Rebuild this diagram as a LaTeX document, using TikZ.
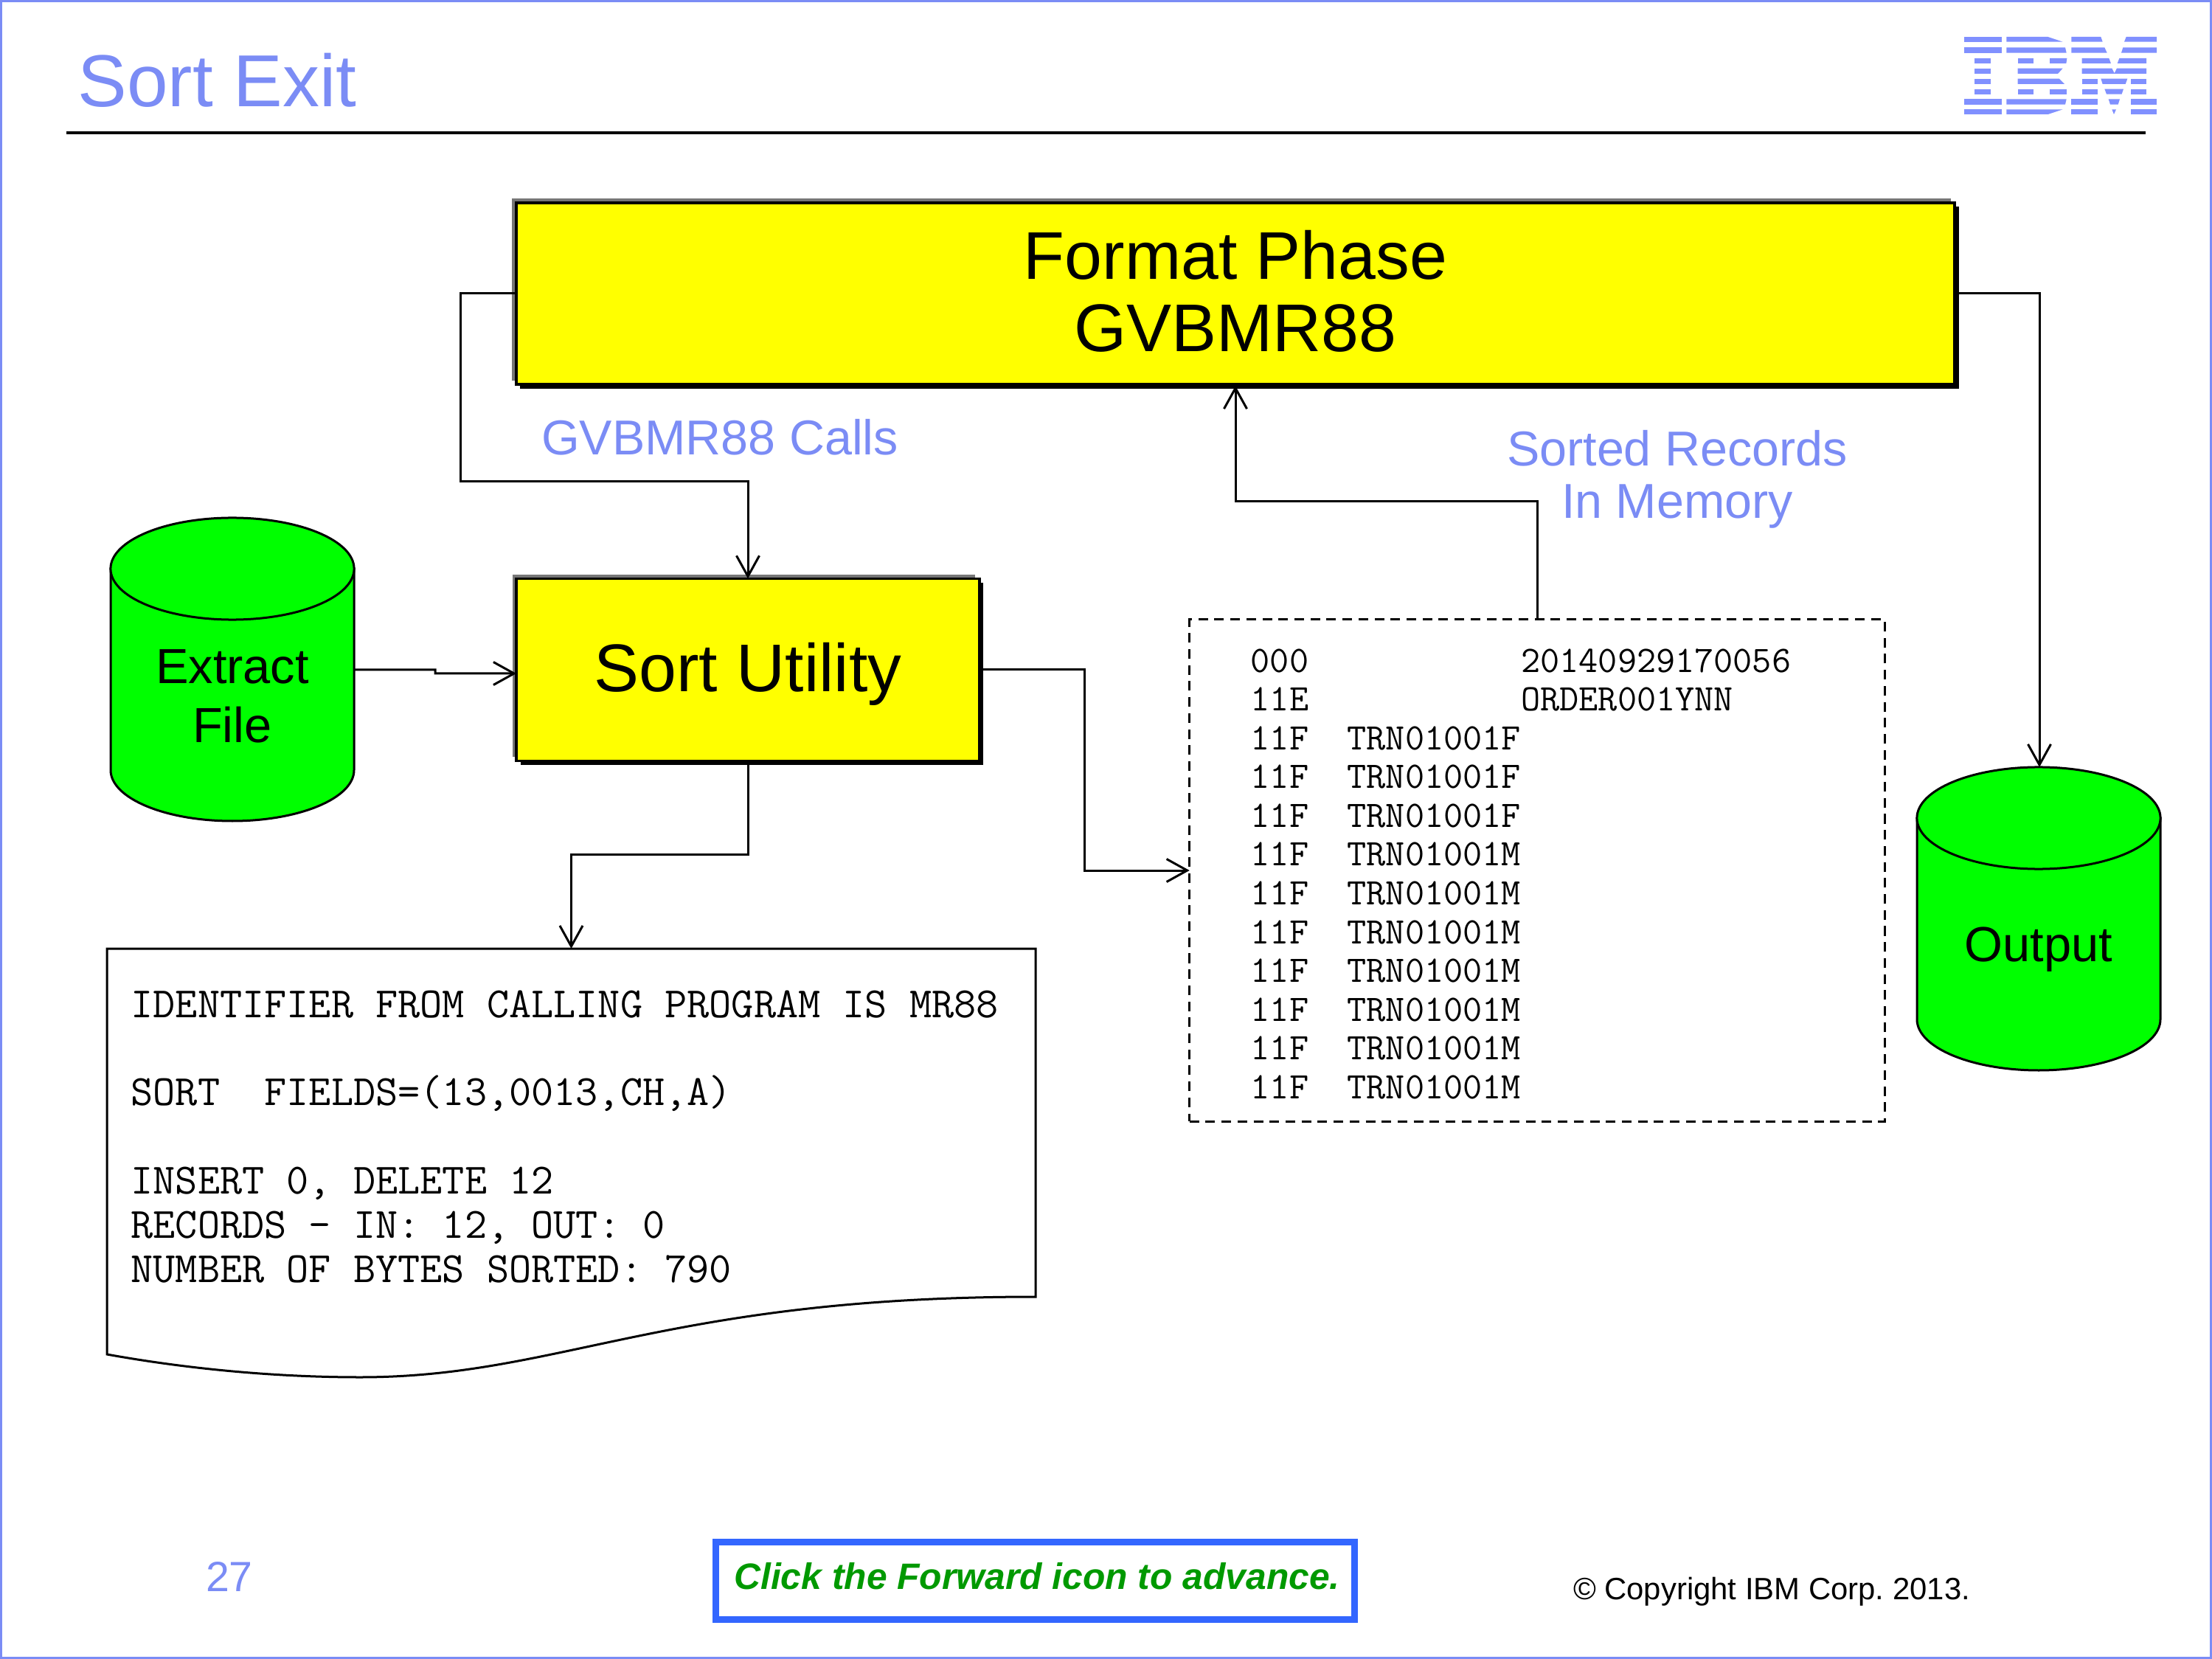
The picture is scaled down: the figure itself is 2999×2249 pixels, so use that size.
\documentclass[tikz,border=0pt]{standalone}
\usepackage{fontspec}
\setmainfont{Liberation Sans}
\usetikzlibrary{arrows.meta,shadows}
\frenchspacing
\definecolor{ibmblue}{HTML}{7B8CF5}
\definecolor{logoblue}{HTML}{8090FF}
\definecolor{btnblue}{HTML}{3366FF}
\definecolor{btngreen}{HTML}{009900}
\definecolor{cylgreen}{HTML}{00FF00}
\definecolor{boxyellow}{HTML}{FFFF00}
\definecolor{shadowgray}{HTML}{777777}
\newcommand{\fsz}[2]{\fontsize{#1}{#2}\selectfont}
\newcommand{\monospacing}{\spaceskip=0.5156em\xspaceskip=0.5156em\relax}
\newcommand{\cylshape}[2]{%
  \begin{scope}[shift={(#1,#2)}]
    \path[cylstroke,fill=cylgreen] (0,69) -- (0,342)
      .. controls (0,380) and (74,411) .. (165,411)
      .. controls (256,411) and (330,380) .. (330,342) -- (330,69) -- cycle;
    \path[cylstroke,fill=cylgreen] (165,69) ellipse [x radius=1.65cm,y radius=0.69cm];
  \end{scope}}
\tikzset{
  cylstroke/.style={draw=black,line width=0.03cm},
  phasebox/.style={draw=black,fill=boxyellow,line width=0.032cm,inner sep=0pt,outer sep=0pt,align=center,
    general shadow={shadow xshift=-0.055cm,shadow yshift=0.055cm,fill=shadowgray},
    general shadow={shadow xshift=0.055cm,shadow yshift=-0.055cm,fill=black}},
  cyllabel/.style={inner sep=0pt,outer sep=0pt,minimum width=3.3cm,align=center,font=\fsz{19}{22.8}},
  bluelabel/.style={text=ibmblue,inner sep=0pt,align=center,font=\fsz{18.9}{20.3}},
  link/.style={draw=black,line width=0.03cm},
  linkarrow/.style={link,-{Straight Barb[length=0.28cm,width=0.31cm]}},
  logopart/.style={fill=logoblue},
  monoreport/.style={inner xsep=0.33cm,inner ysep=0pt,outer sep=0pt,align=left,
    font={\ttfamily\fsz{16.65}{17.0}}},
  monodump/.style={draw=black,line width=0.03cm,dash pattern=on 0.13cm off 0.087cm,inner ysep=0pt,outer sep=0pt,align=left,
    font={\ttfamily\fsz{14.44}{14.94}}}
}
\begin{document}
\begin{tikzpicture}[x=0.01cm,y=-0.01cm]
\useasboundingbox (0,0) rectangle (2999,2249);
% slide frame
\path[draw=ibmblue,line width=0.03cm] (1.5,1.5) rectangle (2997.5,2247.5);
% title
\node[anchor=base west,inner sep=0pt,text=ibmblue,font=\fsz{28.4}{32}] (title) at (105,145) {Sort Exit};
\coordinate (ruleL) at (90,180);
\coordinate (ruleR) at (2909,180);
\draw[line width=0.035cm] (ruleL) -- (ruleR);
% logo
\begin{scope}[shift={(2600,0)},xscale=1/3,yscale=1/3]
  \foreach \a/\b in {150/170,193/215,403/425,445/465}{\fill[logopart] (189,\a) rectangle (343,\b);}
  \foreach \a/\b in {237/258,278/300,320/342,362/383}{\fill[logopart] (232,\a) rectangle (298,\b);}
  \fill[logopart] (361,150)--(530,150)--(590,170)--(361,170)--cycle;
  \fill[logopart] (361,193)--(600,193)--(605,215)--(361,215)--cycle;
  \fill[logopart] (407,237) rectangle (472,258);
  \fill[logopart] (537,237)--(607,237)--(604,258)--(537,258)--cycle;
  \fill[logopart] (407,278)--(590,278)--(570,300)--(407,300)--cycle;
  \fill[logopart] (407,320)--(575,320)--(597,342)--(407,342)--cycle;
  \fill[logopart] (407,362) rectangle (472,383);
  \fill[logopart] (537,362) rectangle (607,383);
  \fill[logopart] (361,403)--(605,403)--(600,425)--(361,425)--cycle;
  \fill[logopart] (361,445)--(590,445)--(530,465)--(361,465)--cycle;
  \fill[logopart] (625,150)--(745,150)--(752,170)--(625,170)--cycle;
  \fill[logopart] (848,150)--(972,150)--(972,170)--(840,170)--cycle;
  \fill[logopart] (625,193)--(760,193)--(770,215)--(625,215)--cycle;
  \fill[logopart] (835,193)--(972,193)--(972,215)--(828,215)--cycle;
  \fill[logopart] (668,237)--(778,237)--(786,258)--(668,258)--cycle;
  \fill[logopart] (820,237)--(930,237)--(930,258)--(812,258)--cycle;
  \fill[logopart] (668,278)--(790,278)--(800,298)--(810,278)--(930,278)--(930,300)--(668,300)--cycle;
  \foreach \a/\b in {320/342,362/383}{\fill[logopart] (668,\a) rectangle (733,\b);\fill[logopart] (866,\a) rectangle (930,\b);}
  \fill[logopart] (745,320)--(853,320)--(845,342)--(752,342)--cycle;
  \fill[logopart] (760,362)--(837,362)--(830,383)--(768,383)--cycle;
  \foreach \a/\b in {403/425,445/465}{\fill[logopart] (625,\a) rectangle (733,\b);\fill[logopart] (866,\a) rectangle (972,\b);}
  \fill[logopart] (776,403)--(822,403)--(815,425)--(783,425)--cycle;
  \fill[logopart] (790,445)--(807,445)--(798,465)--cycle;
\end{scope}
% boxes
\node[phasebox,minimum width=19.49cm,minimum height=2.46cm,font=\fsz{26}{27.8}] (format) at (1675,398) {Format Phase\\GVBMR88\rule[-2.2pt]{0pt}{0pt}};
\node[phasebox,minimum width=6.275cm,minimum height=2.47cm,font=\fsz{26}{28.3}] (sort) at (1014,908) {\rule{0pt}{22.2pt}Sort Utility};
% cylinders
\cylshape{150}{702}
\node[cyllabel,minimum height=3.42cm] (extract) at (315,944) {Extract\\File};
\cylshape{2599}{1040}
\node[cyllabel,minimum height=3.44cm] (output) at (2764,1287) {Output};
% report
\path[draw=black,line width=0.03cm,fill=white] (145,1286) -- (1404,1286) -- (1404,1758)
  .. controls (900,1758) and (760,1867) .. (488,1867)
  .. controls (370,1867) and (250,1855) .. (145,1836) -- cycle;
\node[monoreport,anchor=north,minimum width=12.59cm,text width=11.93cm] (report) at (774.5,1286) {\monospacing\rule{0pt}{9.75pt}~\\[-0.2pt]
IDENTIFIER FROM CALLING PROGRAM IS MR88\\
~\\
SORT~~FIELDS=(13,0013,CH,A)\\
~\\
INSERT 0, DELETE 12\\
RECORDS - IN: 12, OUT: 0\\
NUMBER OF BYTES SORTED: 790};
% dump
\node[monodump,minimum width=9.42cm,minimum height=6.8cm,text width=7.76cm,inner xsep=0.83cm] (dump) at (2084,1180) {\monospacing\rule{0pt}{11.7pt}000~~~~~~~~~~~20140929170056\\
11E~~~~~~~~~~~ORDER001YNN\\
11F~~TRN01001F\\
11F~~TRN01001F\\
11F~~TRN01001F\\
11F~~TRN01001M\\
11F~~TRN01001M\\
11F~~TRN01001M\\
11F~~TRN01001M\\
11F~~TRN01001M\\
11F~~TRN01001M\\
11F~~TRN01001M};
% labels
\node[bluelabel] (calls) at (976,593) {GVBMR88 Calls};
\node[bluelabel] (sorted) at (2274,650) {Sorted Records\\In Memory};
\node[text=ibmblue,inner sep=0pt,font=\fsz{16.3}{18}] (page) at (311,2137) {27};
\node[draw=btnblue,line width=0.09cm,minimum width=8.66cm,minimum height=1.05cm,inner sep=0pt,text=btngreen,font=\bfseries\itshape\fsz{14.15}{16}] (click) at (1403.5,2143) {\hspace*{0.05cm}\raisebox{0.13cm}{Click the Forward icon to advance.}};
\node[inner sep=0pt,font=\fsz{11.9}{14}] (copy) at (2402,2158) {© Copyright IBM Corp. 2013.};
% connectors
\draw[linkarrow] (format.west) -- ++(-75,0) |- (1014,653) -- (sort.north);
\draw[linkarrow] ([yshift=0.36cm]extract.east) -- (590,908) -- (590,913) -- (sort.west |- 0,913);
\draw[linkarrow] (sort.south) -- (1014,1158) -- (report.north |- 0,1158) -- (report.north);
\draw[linkarrow] (sort.east) -- (1470,908) |- (dump.west);
\draw[linkarrow] (dump.north) -- (2084,680) -- (1675,680) -- ([yshift=-0.02cm]format.south);
\draw[linkarrow] (format.east) -- (2765,398) -- (2765,1040);
\end{tikzpicture}
\end{document}
